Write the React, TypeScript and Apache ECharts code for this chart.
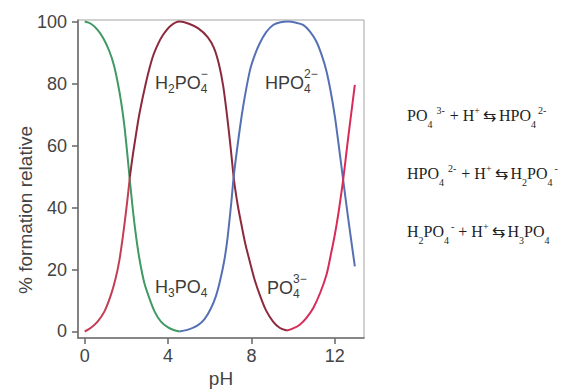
import React, { useEffect, useRef } from "react";
import * as echarts from "echarts";

// ---- axis ticks ----
const xTicks = [0, 4, 8, 12];
const yTicks = [0, 20, 40, 60, 80, 100];

// ---- curves (pH, % formation) ----
const greenPH = [0, 0.3, 0.62, 0.9, 1.18, 1.4, 1.58, 1.75, 1.9, 2.02, 2.15, 2.3, 2.45, 2.62, 2.85, 3.1, 3.35, 3.66, 4.0, 4.3, 4.55];
const greenPct = [100, 99.3, 97.3, 94.5, 90.5, 86, 80.5, 74, 66.7, 59, 50, 40, 31.5, 23.7, 16, 10.8, 6.5, 3.2, 1.3, 0.4, 0];

const redRisePH = [0, 0.3, 0.62, 0.95, 1.26, 1.48, 1.66, 1.83, 1.98, 2.1, 2.17];
const redRisePct = [0, 1.2, 3.2, 6.5, 11.8, 17, 22.8, 30.5, 38.5, 45.5, 50];

const maroonPH = [2.17, 2.28, 2.38, 2.62, 2.95, 3.26, 3.5, 3.74, 4.1, 4.55, 5.0, 5.45, 5.9, 6.2, 6.45, 6.65, 6.85, 7.0, 7.12, 7.2, 7.35, 7.52, 7.7, 7.92, 8.15, 8.4, 8.7, 9.04, 9.35, 9.7];
const maroonPct = [50, 55.5, 60, 70, 80.6, 88.5, 92.5, 95.5, 98.5, 100, 99.3, 97.8, 95, 91.5, 86, 79, 68.5, 59.5, 51.5, 47, 40.5, 34.5, 28.5, 22.6, 16.8, 11.8, 6.8, 3.2, 1.2, 0.3];

const crimsonPH = [9.7, 10.0, 10.32, 10.65, 10.96, 11.3, 11.6, 11.8, 12.0, 12.17, 12.32, 12.4, 12.5, 12.64, 12.8, 12.96];
const crimsonPct = [0.3, 1, 2.2, 4.5, 7.5, 12.5, 18.3, 24.5, 31.2, 38, 45, 49, 54.5, 62.5, 71, 79.6];

const bluePH = [4.55, 5.0, 5.42, 5.75, 6.06, 6.3, 6.5, 6.7, 6.85, 7.04, 7.15, 7.36, 7.6, 7.92, 8.15, 8.4, 8.7, 9.04, 9.4, 9.76, 10.1, 10.48, 10.8, 11.12, 11.38, 11.6, 11.8, 12.0, 12.16, 12.37, 12.64, 12.96];
const bluePct = [0, 0.7, 2, 4, 7.5, 11.5, 16.5, 23, 30, 42, 50, 61.3, 72.5, 84, 89, 93, 96.5, 98.9, 99.8, 100, 99.7, 98.9, 96.8, 93.5, 89, 84, 77.5, 69.5, 61.5, 50.5, 36.6, 21];

const SANS = '"Liberation Sans", Arial, Helvetica, sans-serif';
const SERIF = '"Liberation Serif", "Times New Roman", serif';

type Piece = { t?: string; sub?: string; sup?: string; gap?: number };

export default function App() {
  const ref = useRef<HTMLDivElement>(null);

  useEffect(() => {
    const el = ref.current!;
    const chart = echarts.init(el, null, { renderer: "svg" });
    const ctx = document.createElement("canvas").getContext("2d")!;
    const measure = (s: string, size: number, fam: string) => {
      ctx.font = `${size}px ${fam}`;
      return ctx.measureText(s).width;
    };

    const txt = (s: string, x: number, base: number, size: number, fam: string, fill: string, k: number) => ({
      type: "text",
      x,
      y: base - k * size,
      silent: true,
      style: { text: s, fontSize: size, fontFamily: fam, fill, align: "left", verticalAlign: "middle" },
    });

    const chem = (
      x0: number,
      base: number,
      pieces: Piece[],
      o: { fam: string; size: number; small: number; subDy: number; supDy: number; fill: string; k: number }
    ) => {
      const out: any[] = [];
      let x = x0;
      for (const p of pieces) {
        if (p.gap) {
          x += p.gap;
          continue;
        }
        if (p.t) {
          out.push(txt(p.t, x, base, o.size, o.fam, o.fill, o.k));
          x += measure(p.t, o.size, o.fam);
        } else {
          let w = 0;
          if (p.sub) {
            out.push(txt(p.sub, x, base + o.subDy, o.small, o.fam, o.fill, o.k));
            w = Math.max(w, measure(p.sub, o.small, o.fam));
          }
          if (p.sup) {
            out.push(txt(p.sup, x, base + o.supDy, o.small, o.fam, o.fill, o.k));
            w = Math.max(w, measure(p.sup, o.small, o.fam));
          }
          x += w;
        }
      }
      return out;
    };

    const lab = { fam: SANS, size: 18, small: 12, subDy: 4, supDy: -11, fill: "#3c3c3c", k: 0.3465 };
    const eq = { fam: SERIF, size: 16, small: 10, subDy: 7, supDy: -7, fill: "#1e1e1e", k: 0.3375 };

    const elements: any[] = [
      ...chem(155, 89, [{ t: "H" }, { sub: "2" }, { t: "PO" }, { sub: "4", sup: "\u2212" }], lab),
      ...chem(265, 89, [{ t: "HPO" }, { sub: "4", sup: "2\u2212" }], lab),
      ...chem(155, 293, [{ t: "H" }, { sub: "3" }, { t: "PO" }, { sub: "4" }], lab),
      ...chem(267, 294, [{ t: "PO" }, { sub: "4", sup: "3\u2212" }], lab),
      ...chem(407, 121, [
        { t: "PO" }, { sub: "4" }, { gap: 4 }, { sup: "3-" }, { gap: 5 }, { t: "+" }, { gap: 4 }, { t: "H" }, { sup: "+" },
        { gap: 3 }, { t: "\u21c6" }, { gap: 3 }, { t: "HPO" }, { sub: "4" }, { gap: 2 }, { sup: "2-" },
      ], eq),
      ...chem(407, 179, [
        { t: "HPO" }, { sub: "4" }, { gap: 4 }, { sup: "2-" }, { gap: 5 }, { t: "+" }, { gap: 4 }, { t: "H" }, { sup: "+" },
        { gap: 3 }, { t: "\u21c6" }, { gap: 3 }, { t: "H" }, { sub: "2" }, { t: "PO" }, { sub: "4" }, { gap: 2 }, { sup: "-" },
      ], eq),
      ...chem(407, 237, [
        { t: "H" }, { sub: "2" }, { t: "PO" }, { sub: "4" }, { gap: 2 }, { sup: "-" }, { gap: 4 }, { t: "+" }, { gap: 4 },
        { t: "H" }, { sup: "+" }, { gap: 3 }, { t: "\u21c6" }, { gap: 3 }, { t: "H" }, { sub: "3" }, { t: "PO" }, { sub: "4" },
      ], eq),
      {
        type: "text",
        x: 25,
        y: 210,
        rotation: Math.PI / 2,
        silent: true,
        style: { text: "% formation relative", fontSize: 19, fontFamily: SANS, fill: "#444", align: "center", verticalAlign: "middle" },
      },
      {
        type: "text",
        x: 221,
        y: 378,
        silent: true,
        style: { text: "pH", fontSize: 19, fontFamily: SANS, fill: "#444", align: "center", verticalAlign: "middle" },
      },
    ];

    const mk = (name: string, xs: number[], ys: number[], color: string) => ({
      type: "line",
      name,
      data: xs.map((x, i) => [x, ys[i]]),
      smooth: 0.3,
      showSymbol: false,
      symbol: "none",
      lineStyle: { color, width: 2 },
      emphasis: { disabled: true },
    });

    const axisColor = "#6f6f6f";
    chart.setOption({
      animation: false,
      grid: { left: 78, right: 213, top: 20, bottom: 51, show: true, borderColor: "#a3a3a3", borderWidth: 1 },
      xAxis: {
        type: "value",
        min: -0.32,
        max: 13.4,
        axisLine: { show: true, onZero: false, lineStyle: { color: axisColor, width: 1.6 } },
        axisTick: { show: true, customValues: xTicks, length: 6, lineStyle: { color: axisColor, width: 1.6 } },
        axisLabel: { customValues: xTicks, margin: 9, fontSize: 18, color: "#444", fontFamily: SANS },
        splitLine: { show: false },
      },
      yAxis: {
        type: "value",
        min: -2.1,
        max: 100.5,
        axisLine: { show: true, onZero: false, lineStyle: { color: axisColor, width: 1.6 } },
        axisTick: { show: true, customValues: yTicks, length: 6, lineStyle: { color: axisColor, width: 1.6 } },
        axisLabel: { customValues: yTicks, margin: 11, fontSize: 18, color: "#444", fontFamily: SANS },
        splitLine: { show: false },
      },
      series: [
        mk("H3PO4", greenPH, greenPct, "#3f9a63"),
        mk("H2PO4 rise", redRisePH, redRisePct, "#c23e55"),
        mk("H2PO4", maroonPH, maroonPct, "#8c2a3c"),
        mk("HPO4", bluePH, bluePct, "#5571b4"),
        mk("PO4", crimsonPH, crimsonPct, "#d92b58"),
      ],
      graphic: { elements },
    });

    return () => chart.dispose();
  }, []);

  return <div ref={ref} style={{ position: "fixed", left: 0, top: 0, width: 577, height: 389, background: "#fff" }} />;
}
